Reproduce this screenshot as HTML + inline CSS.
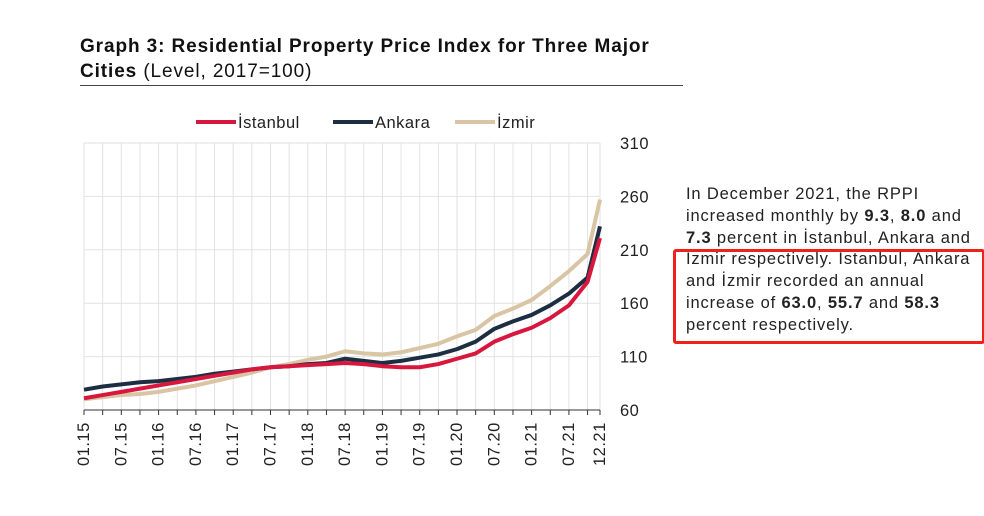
<!DOCTYPE html>
<html><head><meta charset="utf-8"><style>
body{margin:0;background:#fff;width:984px;height:516px;overflow:hidden;font-family:"Liberation Sans","DejaVu Sans",sans-serif;position:relative}
.t{position:absolute;left:80px;color:#111;font-size:19px;letter-spacing:0.9px}
.p{position:absolute;left:686px;top:184px;font-size:16.5px;line-height:21.8px;color:#222;width:310px;letter-spacing:0.85px;white-space:nowrap}
</style></head><body>
<div class="t" style="top:36px;font-weight:bold">Graph 3: Residential Property Price Index for Three Major</div>
<div class="t" style="top:61px"><b>Cities</b> (Level, 2017=100)</div>
<div style="position:absolute;left:80px;top:85px;width:603px;height:1px;background:#444"></div>
<div class="p">In December 2021, the RPPI<br>increased monthly by <b>9.3</b>, <b>8.0</b> and<br><b>7.3</b> percent in İstanbul, Ankara and<br>İzmir respectively. Istanbul, Ankara<br>and İzmir recorded an annual<br>increase of <b>63.0</b>, <b>55.7</b> and <b>58.3</b><br>percent respectively.</div>
<div style="position:absolute;left:673px;top:249px;width:306px;height:89px;border:3px solid #f0201a;border-radius:3px"></div>
<svg id="c" width="984" height="516" style="position:absolute;left:0;top:0"></svg>
<script>
const categories=['01.15','07.15','01.16','07.16','01.17','07.17','01.18','07.18','01.19','07.19','01.20','07.20','01.21','07.21','12.21'];
const istanbul=[71,74,77,80,83,86,89,92,95,98,100,101,102,103,104,103,101,100,100,103,108,113,124,131,137,146,158,180,221];
const ankara=[79,82,84,86,87,89,91,94,96,98,100,101,103,104,108,106,104,106,109,112,117,124,136,143,149,158,169,184,232];
const izmir=[70,72,74,75,77,80,83,87,91,95,100,103,107,110,115,113,112,114,118,122,129,135,148,155,163,176,190,206,257];
const yTicks=[60,110,160,210,260,310];
const NS='http://www.w3.org/2000/svg',svg=document.getElementById('c');
const x0=84,x1=600,y0=410,y1=143;
const xm=m=>x0+(x1-x0)*m/83;
const ys=v=>y0-(v-60)/250*(y0-y1);
const monthOf=i=>i<28?i*3:83;
function mk(t,a,txt){const e=document.createElementNS(NS,t);for(const k in a)e.setAttribute(k,a[k]);if(txt!==undefined)e.textContent=txt;svg.appendChild(e);return e;}
for(let m=0;m<=84;m+=3){const xx=xm(Math.min(m,83));const g=mk('line',{x1:xx,x2:xx,y1:y1,y2:y0,stroke:'#e2e2e2','stroke-width':1});


const tk=mk('line',{x1:xx,x2:xx,y1:y0,y2:y0+5,stroke:'#333'});

}
yTicks.forEach(v=>{const g=mk('line',{x1:x0,x2:x1,y1:ys(v),y2:ys(v),stroke:'#e2e2e2'});


const l=mk('text',{x:620,y:ys(v)+6,'font-size':16.5,fill:'#222','letter-spacing':0.5},v);

});
const ax=mk('line',{x1:x0,x2:x1,y1:y0,y2:y0,stroke:'#333'});


categories.forEach((c,i)=>{const m=i<14?i*6:83;const xx=xm(m)+5;
const t=mk('text',{x:xx,y:466,'font-size':16.5,fill:'#222','letter-spacing':0.5,transform:`rotate(-90 ${xx} 466)`},c);

});
[[izmir,'#d9c4a3','izmir-line'],[ankara,'#1d2e42','ankara-line'],[istanbul,'#d8173e','istanbul-line']].forEach(([d,col,n])=>{
const pts=d.map((v,i)=>xm(monthOf(i))+','+ys(v)).join(' ');
const p=mk('polyline',{points:pts,fill:'none',stroke:col,'stroke-width':4,'stroke-linejoin':'round'});

});
[['İstanbul','#d8173e',196],['Ankara','#1d2e42',333],['İzmir','#d9c4a3',455]].forEach(([n,col,x])=>{
const l=mk('line',{x1:x,x2:x+40,y1:122,y2:122,stroke:col,'stroke-width':4});


const t=mk('text',{x:x+42,y:128,'font-size':16.5,fill:'#222','letter-spacing':0.5},n);

});
</script>
</body></html>
